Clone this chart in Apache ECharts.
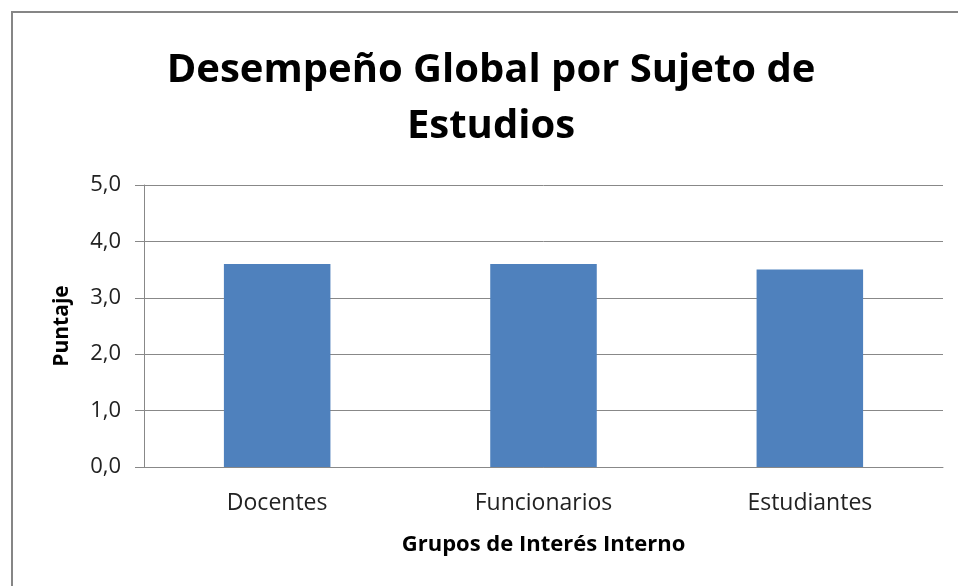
<!DOCTYPE html>
<html>
<head>
<meta charset="utf-8">
<script src="https://cdn.jsdelivr.net/npm/echarts@6/dist/echarts.min.js"></script>
<style>
html,body{margin:0;padding:0;background:#fff;}
#chart{width:958px;height:586px;}
</style>
</head>
<body>
<div id="chart"></div>
<script>
const categories = ["Docentes", "Funcionarios", "Estudiantes"];
const puntaje = [3.6, 3.6, 3.5];
const yTicks = [0, 1, 2, 3, 4, 5];
const titleText = "Desempeño Global por Sujeto de\nEstudios";
const xName = "Grupos de Interés Interno";
const yName = "Puntaje";

const FONT = "Open Sans";
const chart = echarts.init(document.getElementById("chart"), null, {renderer: "canvas"});
chart.setOption({
  animation: false,
  backgroundColor: "#fff",
  graphic: [{
    type: "rect",
    shape: {x: 12, y: 12, width: 960, height: 600},
    style: {fill: "none", stroke: "#868686", lineWidth: 2},
    silent: true
  }],
  title: {
    text: titleText,
    left: 486,
    textAlign: "center",
    top: 38,
    textStyle: {fontFamily: FONT, fontWeight: "bold", fontSize: 40, lineHeight: 56, color: "#000"}
  },
  grid: {left: 144, right: 15, top: 185, bottom: 119, containLabel: false},
  xAxis: {
    type: "category",
    data: categories,
    name: xName,
    nameLocation: "middle",
    nameGap: 67,
    nameTextStyle: {fontFamily: FONT, fontWeight: "bold", fontSize: 22, color: "#000"},
    axisLine: {lineStyle: {color: "#888", width: 1}},
    axisTick: {show: false},
    axisLabel: {fontFamily: FONT, fontSize: 23, color: "#222", margin: 25}
  },
  yAxis: {
    type: "value",
    min: 0, max: 5, interval: 1,
    name: yName,
    nameLocation: "middle",
    nameGap: 71,
    nameTextStyle: {fontFamily: FONT, fontWeight: "bold", fontSize: 21, color: "#000"},
    axisLine: {show: true, lineStyle: {color: "#888", width: 1}},
    axisTick: {show: true, inside: false, length: 9, lineStyle: {color: "#888"}},
    splitLine: {lineStyle: {color: "#888", width: 1}},
    axisLabel: {fontFamily: FONT, fontSize: 22, color: "#222", margin: 23,
      formatter: v => yTicks.includes(v) ? v.toFixed(1).replace(".", ",") : ""}
  },
  series: [{
    type: "bar",
    data: puntaje,
    barWidth: "40%",
    itemStyle: {color: "#4F81BD"}
  }]
});
</script>
</body>
</html>
